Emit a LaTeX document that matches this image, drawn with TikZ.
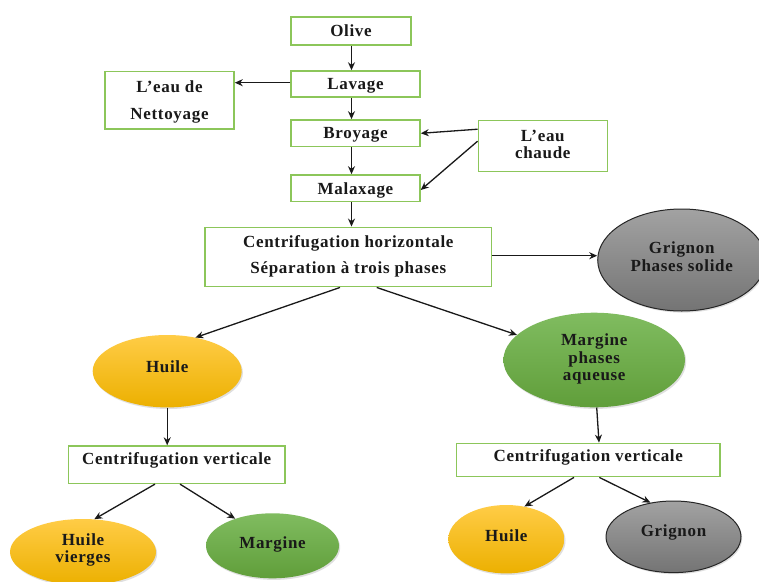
\documentclass[tikz,border=0pt]{standalone}
\usepackage{fontspec}
\setmainfont{Liberation Serif}[LetterSpace=4]
\usetikzlibrary{arrows.meta,shapes.geometric,shadows}

\definecolor{boxline}{RGB}{140,198,90}
\definecolor{arrowc}{RGB}{25,25,25}
\definecolor{yelTop}{RGB}{255,204,70}
\definecolor{yelMid}{RGB}{255,193,10}
\definecolor{yelBot}{RGB}{236,176,0}
\definecolor{grnTop}{RGB}{128,188,96}
\definecolor{grnMid}{RGB}{110,174,72}
\definecolor{grnBot}{RGB}{96,158,58}
\definecolor{gryTop}{RGB}{162,162,162}
\definecolor{gryMid}{RGB}{138,138,138}
\definecolor{gryBot}{RGB}{116,116,116}

\tikzset{
  stepbox/.style={draw=boxline, line width=1.5pt, fill=white, rectangle,
    inner sep=0pt},
  oval/.style={ellipse, inner sep=0pt,
    drop shadow={opacity=0.25, shadow xshift=1.2pt, shadow yshift=-1.6pt}},
  yeloval/.style={oval, top color=yelTop, middle color=yelMid, bottom color=yelBot},
  grnoval/.style={oval, top color=grnTop, middle color=grnMid, bottom color=grnBot},
  gryoval/.style={oval, draw=black!85, line width=1pt,
    top color=gryTop, middle color=gryMid, bottom color=gryBot},
  lbl/.style={inner sep=0pt, align=center, text=black!90,
    font=\fontsize{17}{20}\selectfont\bfseries},
  arr/.style={draw=arrowc, line width=1.3pt,
    -{Stealth[length=8pt,width=7pt]}},
}

\begin{document}
\begin{tikzpicture}[x=1pt,y=-1pt]
  \fill[white] (0,0) rectangle (759,581);
  \useasboundingbox (0,0) rectangle (759,581);

  % process chain
  \node[stepbox, minimum width=120pt, minimum height=28pt] (olive) at (351,31) {};
  \node[stepbox, minimum width=129pt, minimum height=26pt] (lavage) at (355.5,84) {};
  \node[stepbox, minimum width=129pt, minimum height=57.5pt] (nett) at (169.5,100.3) {};
  \node[stepbox, minimum width=129pt, minimum height=26.7pt] (broyage) at (355.5,133.3) {};
  \node[stepbox, minimum width=129pt, minimum height=51pt] (chaude) at (542.8,146.2) {};
  \node[stepbox, minimum width=129pt, minimum height=26.7pt] (malax) at (355.5,188.3) {};
  \node[stepbox, minimum width=286.7pt, minimum height=59.4pt] (cfh) at (348.3,257) {};
  \node[stepbox, minimum width=216.7pt, minimum height=37.3pt] (cvl) at (176.7,464.7) {};
  \node[stepbox, minimum width=263.3pt, minimum height=33.3pt] (cvr) at (588.3,460) {};

  % products
  \node[gryoval, minimum width=168pt, minimum height=102pt] (grig1) at (681.7,260) {};
  \node[yeloval, minimum width=149pt, minimum height=72.4pt] (huile1) at (167.2,371.2) {};
  \node[grnoval, minimum width=181.6pt, minimum height=94.6pt] (marg1) at (594.2,360) {};
  \node[yeloval, minimum width=146pt, minimum height=66pt] (hv) at (83,552) {};
  \node[grnoval, minimum width=133pt, minimum height=65pt] (marg2) at (272.5,545.8) {};
  \node[yeloval, minimum width=116pt, minimum height=68.4pt] (huile2) at (506.3,539.2) {};
  \node[gryoval, minimum width=135pt, minimum height=71.6pt] (grig2) at (673.5,536.8) {};

  % texts
  \node[lbl] (t-olive) at (351,31) {Olive};
  \node[lbl] (t-lavage) at (355.5,86) {Lavage};
  \node[lbl, font=\fontsize{17}{27}\selectfont\bfseries] (t-nett) at (169.5,101.5) {L’eau de\\Nettoyage};
  \node[lbl] (t-broyage) at (355.5,135) {Broyage};
  \node[lbl, font=\fontsize{17}{16.7}\selectfont\bfseries] (t-chaude) at (542.8,144.5) {L’eau\\chaude};
  \node[lbl] (t-malax) at (355.5,190) {Malaxage};
  \node[lbl, font=\fontsize{17}{26.6}\selectfont\bfseries] (t-cfh) at (348.3,256.5) {Centrifugation horizontale\\Séparation à trois phases};
  \node[lbl, font=\fontsize{17}{18.3}\selectfont\bfseries] (t-grig1) at (681.7,257) {Grignon\\Phases solide};
  \node[lbl] (t-huile1) at (167.2,366.5) {Huile};
  \node[lbl, font=\fontsize{17}{17.5}\selectfont\bfseries] (t-marg1) at (594.2,359) {Margine\\phases\\aqueuse};
  \node[lbl] (t-cvl) at (176.7,460) {Centrifugation verticale};
  \node[lbl] (t-cvr) at (588.3,457.5) {Centrifugation verticale};
  \node[lbl, font=\fontsize{17}{16.6}\selectfont\bfseries] (t-hv) at (83,550) {Huile\\vierges};
  \node[lbl] (t-marg2) at (272.5,544) {Margine};
  \node[lbl] (t-huile2) at (506.3,535.5) {Huile};
  \node[lbl] (t-grig2) at (673.5,532) {Grignon};

  % main vertical line of the chain
  \coordinate (spine) at (351.5,0);
  \draw[arr] (olive.south -| spine) -- (lavage.north -| spine);
  \draw[arr] (lavage.south -| spine) -- (broyage.north -| spine);
  \draw[arr] (broyage.south -| spine) -- (malax.north -| spine);
  \draw[arr] (malax.south -| spine) -- (cfh.north -| spine);

  % side streams
  \draw[arr] ([yshift=1.3pt]lavage.west) -- ([yshift=1.3pt]lavage.west -| nett.east);
  \draw[arr] ([yshift=17pt]chaude.west) -- (broyage.east);
  \draw[arr] ([yshift=5pt]chaude.west) -- ([yshift=-1.7pt]malax.east);

  % three-phase separation
  \draw[arr] ([yshift=1.3pt]cfh.east) -- ([yshift=1.3pt]cfh.east -| grig1.west);
  \draw[arr] ([xshift=-8.3pt]cfh.south) -- (huile1.50);
  \draw[arr] ([xshift=28.4pt]cfh.south) -- (marg1.162);

  % oil branch
  \draw[arr] (huile1.south) -- (huile1.south |- cvl.north);
  \draw[arr] ([xshift=-21.7pt]cvl.south) -- (hv.71);
  \draw[arr] ([xshift=3.3pt]cvl.south) -- (marg2.144);

  % water branch
  \draw[arr] ([xshift=2.5pt]marg1.south) -- ([xshift=10.7pt]cvr.north);
  \draw[arr] ([xshift=-14.3pt]cvr.south) -- (huile2.61);
  \draw[arr] ([xshift=11pt]cvr.south) -- (grig2.124);
\end{tikzpicture}
\end{document}
